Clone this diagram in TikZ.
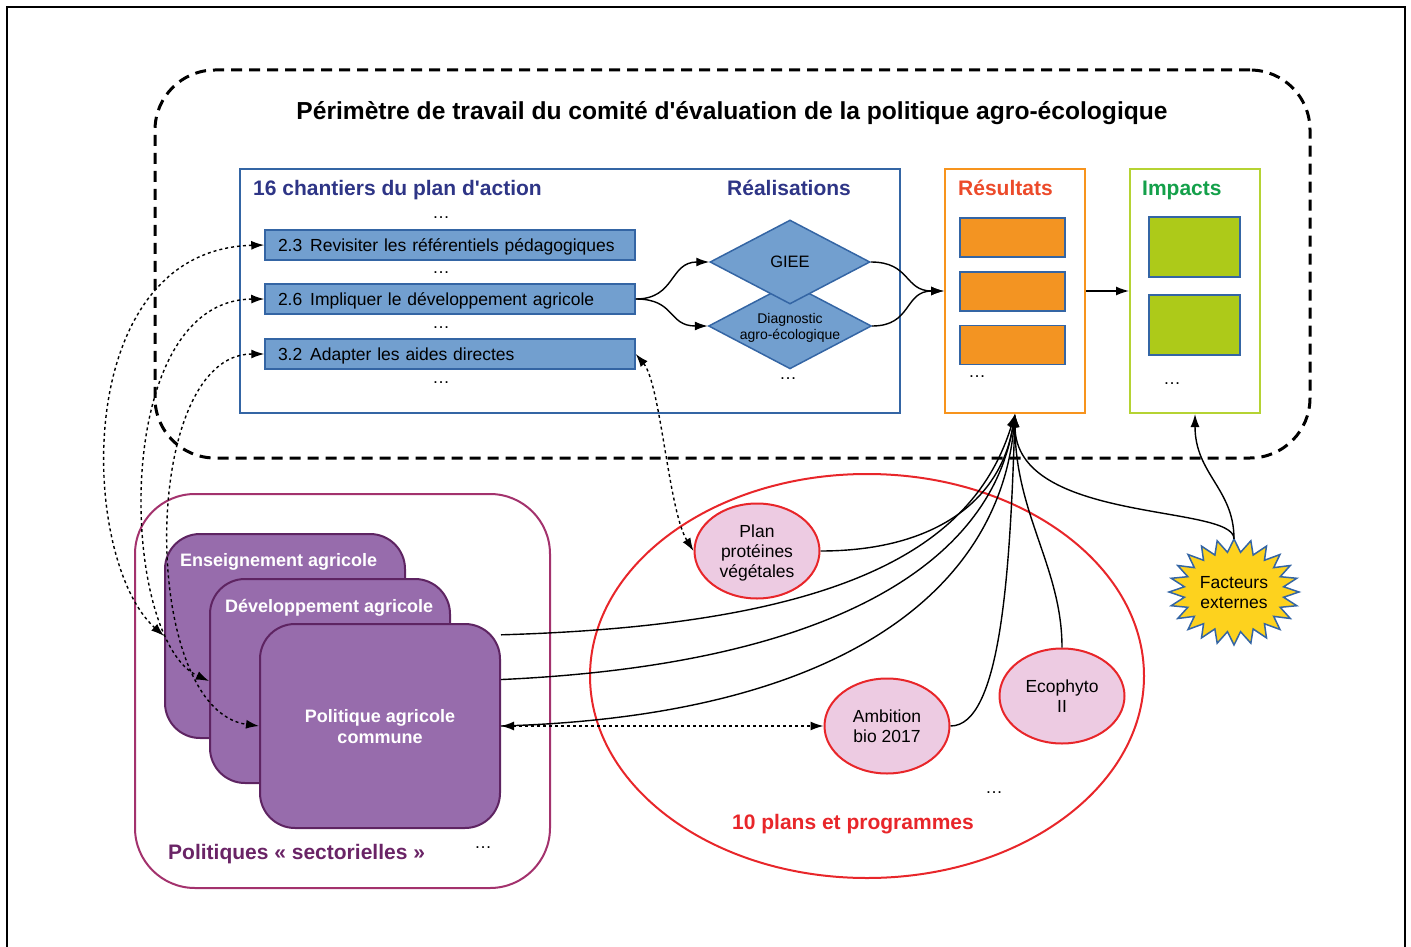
\documentclass[tikz,border=0pt]{standalone}
\usepackage{fontspec}
\setmainfont{Liberation Sans}
\usetikzlibrary{shapes.geometric,arrows.meta,calc}
\definecolor{bfill}{HTML}{729FCF}
\definecolor{bdraw}{HTML}{3465A4}
\definecolor{navy}{HTML}{2E3586}
\definecolor{orbox}{HTML}{F7941D}
\definecolor{ortext}{HTML}{EC4A2A}
\definecolor{orfill}{HTML}{F39422}
\definecolor{grbox}{HTML}{B5D333}
\definecolor{grtext}{HTML}{14A04A}
\definecolor{grfill}{HTML}{ADCA19}
\definecolor{purline}{HTML}{A3326D}
\definecolor{purfill}{HTML}{976CAC}
\definecolor{purdraw}{HTML}{5E2462}
\definecolor{purtext}{HTML}{6A2466}
\definecolor{redc}{HTML}{E8262A}
\definecolor{pinkfill}{HTML}{EDCBE2}
\definecolor{starfill}{HTML}{FDD21E}
\tikzset{
  txt/.style={font=\fontsize{17.5}{20}\selectfont},
  head/.style={font=\bfseries\fontsize{21}{24}\selectfont, inner sep=0pt, anchor=base west},
  dotsn/.style={font=\fontsize{17.5}{20}\selectfont, inner sep=0pt},
  chantier/.style={draw=bdraw, fill=bfill, line width=1.5pt, minimum height=30pt, text width=344pt, text height=12.5pt, text depth=0pt, inner xsep=13pt, inner ysep=2pt, align=left, txt},
  losange/.style={diamond, draw=bdraw, fill=bfill, line width=1.5pt, aspect=1.9, minimum width=160pt, minimum height=84pt, inner sep=0pt, align=center},
  orrect/.style={draw=bdraw, fill=orfill, line width=1.5pt, minimum width=105pt, minimum height=39pt},
  grrect/.style={draw=bdraw, fill=grfill, line width=1.5pt, minimum width=91pt, minimum height=60pt},
  purbox/.style={draw=purdraw, fill=purfill, line width=2pt, rounded corners=35pt, minimum width=240pt, minimum height=204pt},
  plan/.style={ellipse, draw=redc, fill=pinkfill, line width=2pt, minimum width=125pt, minimum height=95pt, inner sep=0pt, text depth=0pt, align=center, txt},
  conn/.style={line width=1.4pt, -{Latex[length=13pt,width=9pt]}},
  dconn/.style={line width=1.4pt, dash pattern=on 3pt off 3pt, {Latex[length=13pt,width=9pt]}-{Latex[length=13pt,width=9pt]}},
}
\begin{document}
\begin{tikzpicture}[x=1pt,y=-1pt]
\useasboundingbox (0,0) rectangle (1411,947);
% outer frame
\draw[line width=2pt] (7,947) -- (7,7) -- (1405,7) -- (1405,947);
% perimeter
\node[draw, line width=3pt, dash pattern=on 11pt off 7pt, rounded corners=60pt, minimum width=1155pt, minimum height=388pt] (perim) at (732.5,264) {};
\node[font=\bfseries\fontsize{24.6}{28}\selectfont, inner sep=0pt, anchor=base] (title) at (732,119.5) {Périmètre de travail du comité d\textquotesingle évaluation de la politique agro-écologique};
% chantiers box
\node[draw=bdraw, line width=1.5pt, minimum width=660pt, minimum height=244pt] (chbox) at (570,291) {};
\node[head, text=navy] (chtitle) at (253,195.5) {16 chantiers du plan d\textquotesingle action};
\node[head, text=navy] (realtitle) at (727,195.5) {Réalisations};
\node[dotsn] (d1) at (441,218) {\dots};
\node[chantier] (c23) at (450,245) {2.3\hspace{0.45em}Revisiter les référentiels pédagogiques};
\node[dotsn] (d2) at (441,273) {\dots};
\node[chantier] (c26) at (450,299) {2.6\hspace{0.45em}Impliquer le développement agricole};
\node[dotsn] (d3) at (441,328) {\dots};
\node[chantier] (c32) at (450,354) {3.2\hspace{0.45em}Adapter les aides directes};
\node[dotsn] (d4) at (441,383) {\dots};
\node[losange, font=\fontsize{14}{16}\selectfont] (diag) at (790,326) {\\[-2pt]Diagnostic\\agro-écologique};
\node[losange, font=\fontsize{16.5}{19}\selectfont] (giee) at (790,262) {GIEE};
\node[dotsn] (d5) at (788,379) {\dots};
% resultats
\node[draw=orbox, line width=2pt, minimum width=140pt, minimum height=244pt] (res) at (1015,291) {};
\node[head, text=ortext] (restitle) at (958,195.5) {Résultats};
\node[orrect] (r1) at (1012.5,237.5) {};
\node[orrect] (r2) at (1012.5,291.5) {};
\node[orrect] (r3) at (1012.5,345) {};
\node[dotsn] (d6) at (977,377) {\dots};
% impacts
\node[draw=grbox, line width=2pt, minimum width=130pt, minimum height=244pt] (imp) at (1195,291) {};
\node[head, text=grtext] (imptitle) at (1142,195.5) {Impacts};
\node[grrect] (g1) at (1194.5,247) {};
\node[grrect] (g2) at (1194.5,325) {};
\node[dotsn] (d7) at (1172,384) {\dots};
% politiques sectorielles
\node[draw=purline, line width=2pt, rounded corners=60pt, minimum width=415pt, minimum height=394pt] (sect) at (342.5,691) {};
\node[purbox] (ens) at (285,636) {};
\node[purbox] (dev) at (330,681) {};
\node[purbox, text=white, font=\bfseries\fontsize{18}{21}\selectfont, align=center, text depth=0pt] (pac) at (380,726) {Politique agricole\\commune};
\node[text=white, font=\bfseries\fontsize{18}{21}\selectfont, anchor=base west, inner sep=0pt] (enst) at (180,566.5) {Enseignement agricole};
\node[text=white, font=\bfseries\fontsize{18}{21}\selectfont, anchor=base west, inner sep=0pt] (devt) at (225,612.5) {Développement agricole};
\node[head, text=purtext] (secttitle) at (168,859.5) {Politiques « sectorielles »};
\node[dotsn] (d8) at (483,848) {\dots};
% plans
\node[ellipse, draw=redc, line width=2pt, minimum width=554pt, minimum height=404pt] (plans) at (867,676) {};
\node[plan] (pp) at (757,551) {Plan\\protéines\\végétales};
\node[plan] (amb) at (887,726) {Ambition\\bio 2017};
\node[plan] (eco) at (1062,696) {Ecophyto\\II};
\node[dotsn] (d9) at (994,793) {\dots};
\node[font=\bfseries\fontsize{21}{24}\selectfont, text=redc, inner sep=0pt, anchor=base] (planstitle) at (853,829.5) {10 plans et programmes};
% facteurs externes
\node[ellipse, minimum width=130pt, minimum height=106pt, inner sep=0pt, align=center, txt] (fe) at (1234,592) {};
\draw[fill=starfill, draw=bdraw, line width=1.5pt] ($(fe.center)+(0:65 and 53)$)
  \foreach \i in {0,...,23} { -- ($(fe.center)+({\i*15+7.5}:50 and 40)$) -- ($(fe.center)+({\i*15+15}:65 and 53)$) } -- cycle;
\node[align=center, txt, text depth=0pt] (fetext) at (fe.center) {Facteurs\\externes};
% connectors
\draw[conn] (c26.east) .. controls +(40,0) and +(-40,0) .. (giee.west);
\draw[conn] (c26.east) .. controls +(40,0) and +(-40,0) .. (diag.west);
\draw[conn] (giee.east) .. controls +(40,0) and +(-40,0) .. (res.west);
\draw[conn] (diag.east) .. controls +(40,0) and +(-40,0) .. (res.west);
\draw[conn] (res.east) -- (imp.west);
\draw[conn] (pp.east) .. controls +(110,0) and +(-15,90) .. (res.south);
\draw[conn] (pac.37) .. controls +(350,-10) and +(-40,130) .. (res.south);
\draw[conn] (pac.21) .. controls +(330,-15) and +(-25,150) .. (res.south);
\draw[conn] (pac.east) .. controls +(350,-10) and +(-15,170) .. (res.south);
\draw[conn] (amb.east) .. controls +(50,0) and +(-5,160) .. (res.south);
\draw[conn] (eco.north) .. controls +(0,-80) and +(0,100) .. (res.south);
\draw[conn] (fe.north) .. controls +(0,-35) and +(0,110) .. (res.south);
\draw[conn] (fe.north) .. controls +(0,-50) and +(0,60) .. (imp.south);
\draw[dconn] (c32.east) .. controls +(25,30) and +(-25,-40) .. (pp.west);
\draw[dconn] (c23.west) .. controls +(-195,5) and +(-85,-76) .. (ens.west);
\draw[dconn] (c26.west) .. controls +(-155,1) and +(-90,-41) .. (dev.west);
\draw[dconn] (c32.west) .. controls +(-125,0) and +(-120,-16) .. (pac.west);
\draw[dconn] (pac.east) -- (amb.west);
\end{tikzpicture}
\end{document}
